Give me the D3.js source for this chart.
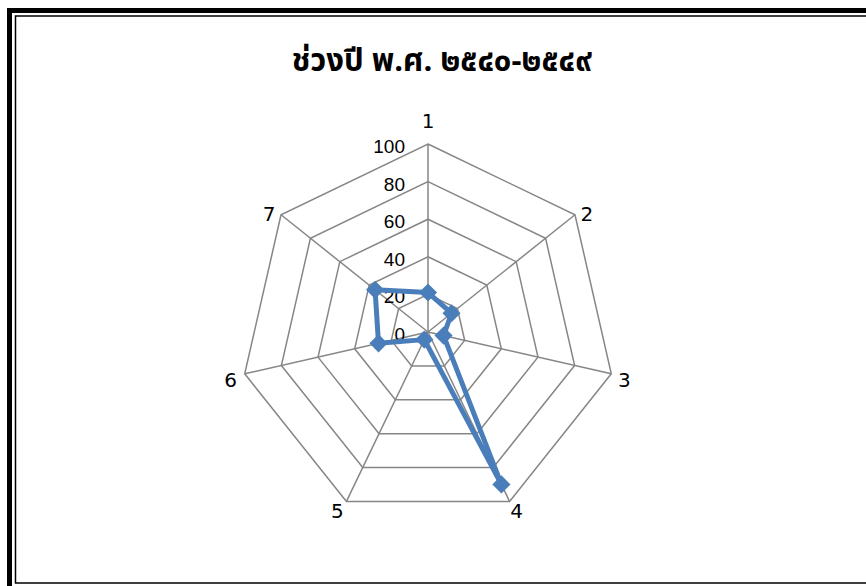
<!DOCTYPE html>
<html>
<head>
<meta charset="utf-8">
<script src="https://cdn.jsdelivr.net/npm/d3@7"></script>
<style>
  body { margin: 0; background: #fff; }
  svg { display: block; }
</style>
</head>
<body>
<svg id="chart"></svg>
<script>
// radar chart data
var title = "ช่วงปี พ.ศ. ๒๕๔๐-๒๕๔๙";
var categories = ["1", "2", "3", "4", "5", "6", "7"];
var values = [21, 16, 8.5, 90, 4.5, 27, 36];
var ticks = [0, 20, 40, 60, 80, 100];

var svgWidth = 866, svgHeight = 586;
var cx = 428, cy = 332, radius = 188;

var svg = d3.select("#chart")
    .attr("width", svgWidth)
    .attr("height", svgHeight);

// double border, like the excel chart frame
svg.append("rect")
    .attr("x", 9.5).attr("y", 10.5)
    .attr("width", 900).attr("height", 600)
    .attr("fill", "none")
    .attr("stroke", "#000")
    .attr("stroke-width", 5);
svg.append("rect")
    .attr("x", 15.5).attr("y", 16)
    .attr("width", 900).attr("height", 567)
    .attr("fill", "none")
    .attr("stroke", "#000")
    .attr("stroke-width", 1.5);

svg.append("text")
    .attr("x", 442)
    .attr("y", 71)
    .attr("text-anchor", "middle")
    .attr("font-family", "'Noto Sans Thai', Loma, Tahoma, 'DejaVu Sans', sans-serif")
    .attr("font-weight", "bold")
    .attr("font-size", 31)
    .text(title);

var r = d3.scaleLinear().domain([0, 100]).range([0, radius]);
var angle = d3.scaleLinear()
    .domain([0, categories.length])
    .range([0, 2 * Math.PI]);

function px(i, v) { return cx + r(v) * Math.sin(angle(i)); }
function py(i, v) { return cy - r(v) * Math.cos(angle(i)); }

var g = svg.append("g");

// rings
ticks.slice(1).forEach(function(t) {
    var pts = categories.map(function(c, i) { return [px(i, t), py(i, t)]; });
    g.append("polygon")
        .attr("points", pts.map(function(p) { return p.join(","); }).join(" "))
        .attr("fill", "none")
        .attr("stroke", "#868686")
        .attr("stroke-width", 1.5);
});

// spokes
g.selectAll("line.spoke")
    .data(categories)
    .enter()
    .append("line")
    .attr("class", "spoke")
    .attr("x1", cx).attr("y1", cy)
    .attr("x2", function(d, i) { return px(i, 100); })
    .attr("y2", function(d, i) { return py(i, 100); })
    .attr("stroke", "#868686")
    .attr("stroke-width", 1.5);

// tick labels along axis 1
g.selectAll("text.tick")
    .data(ticks)
    .enter()
    .append("text")
    .attr("class", "tick")
    .attr("x", cx - 23)
    .attr("y", function(d) { return cy - r(d) + 9; })
    .attr("text-anchor", "end")
    .attr("font-family", "'Liberation Sans', Arial, sans-serif")
    .attr("font-size", 19)
    .attr("fill", "#000")
    .text(function(d) { return d; });

// category labels
var labelOff = [
    [0, -23], [12, -1], [13, 6], [7, 10], [-9, 10], [-14, 6], [-12, -1]
];
g.selectAll("text.cat")
    .data(categories)
    .enter()
    .append("text")
    .attr("class", "cat")
    .attr("x", function(d, i) { return px(i, 100) + labelOff[i][0]; })
    .attr("y", function(d, i) { return py(i, 100) + labelOff[i][1] + 7; })
    .attr("text-anchor", "middle")
    .attr("font-family", "'DejaVu Sans', Tahoma, sans-serif")
    .attr("font-size", 20)
    .attr("fill", "#000")
    .text(function(d) { return d; });

// series line
var line = d3.lineRadial()
    .angle(function(d, i) { return angle(i); })
    .radius(function(d) { return r(d); })
    .curve(d3.curveLinearClosed);

g.append("path")
    .attr("transform", "translate(" + cx + "," + cy + ")")
    .attr("d", line(values))
    .attr("fill", "none")
    .attr("stroke", "#4A7EBB")
    .attr("stroke-width", 5)
    .attr("stroke-linejoin", "round");

// diamond markers
g.selectAll("path.marker")
    .data(values)
    .enter()
    .append("path")
    .attr("class", "marker")
    .attr("d", d3.symbol().type(d3.symbolSquare).size(165))
    .attr("transform", function(d, i) {
        return "translate(" + px(i, d) + "," + py(i, d) + ") rotate(45)";
    })
    .attr("fill", "#4A7EBB");
</script>
</body>
</html>
